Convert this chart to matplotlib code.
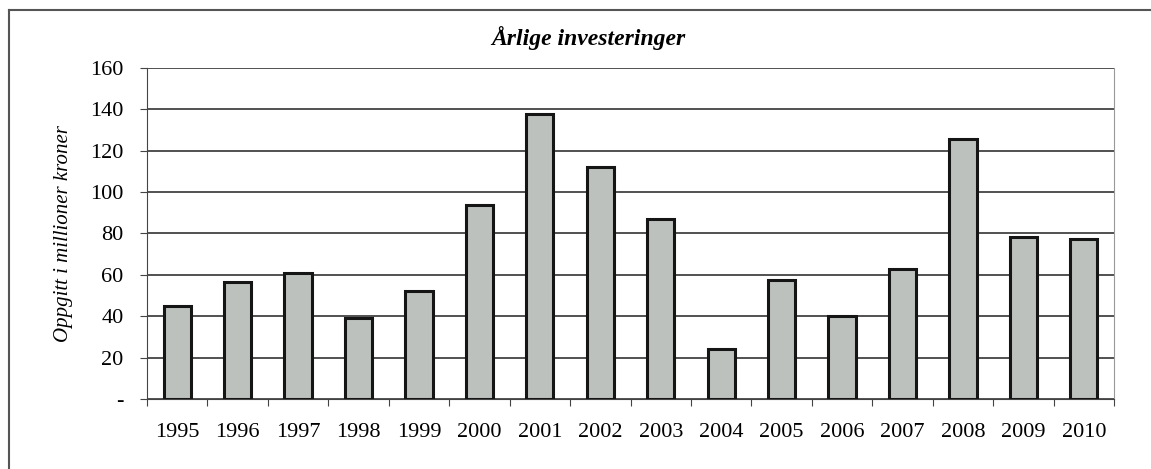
import matplotlib.pyplot as plt
from matplotlib.lines import Line2D

years = ['1995', '1996', '1997', '1998', '1999', '2000', '2001', '2002',
         '2003', '2004', '2005', '2006', '2007', '2008', '2009', '2010']
values = [45, 56.5, 61, 39, 52, 94, 138, 112, 87, 24, 57.5, 40, 63, 125.5, 78.5, 77.5]
yticks = [0, 20, 40, 60, 80, 100, 120, 140, 160]
ylabels = ['-', '20', '40', '60', '80', '100', '120', '140', '160']

plt.rcParams['font.family'] = 'Liberation Serif'

W, H = 1151, 469
fig = plt.figure(figsize=(W / 100, H / 100), dpi=100)
ax = fig.add_axes([147 / W, 1 - 399 / H, (1114 - 147) / W, (399 - 68) / H])

x = range(len(years))
ax.bar(x, values, width=0.45, color='#bcc1be', edgecolor='#151515', linewidth=2.2, zorder=3)

ax.set_xlim(-0.5, len(years) - 0.5)
ax.set_ylim(0, 160)
ax.set_yticks(yticks)
ax.set_yticklabels(ylabels, fontsize=16)
ax.set_xticks([i + 0.5 for i in range(len(years) - 1)] + [-0.5, len(years) - 0.5])
ax.set_xticklabels([''] * (len(years) + 1))
ax.set_xticks(list(x), minor=True)
ax.set_xticklabels(years, minor=True, fontsize=16)
ax.tick_params(axis='x', which='minor', length=0, pad=17)
ax.tick_params(axis='x', which='major', length=5, color='#444444')
ax.tick_params(axis='y', length=5, color='#444444', pad=12)

ax.grid(axis='y', color='#333333', linewidth=1.2, zorder=0)
ax.spines['top'].set_visible(False)
ax.spines['right'].set_color('#999999')
ax.spines['left'].set_color('#444444')
ax.spines['bottom'].set_color('#444444')

ax.set_ylabel('Oppgitt i millioner kroner', fontsize=15, style='italic', labelpad=12)
fig.text(588 / W, 1 - 38 / H, 'Årlige investeringer', fontsize=17, style='italic',
         weight='bold', ha='center', va='center')

# outer chart frame (cut by the scan on right and bottom)
fig.add_artist(Line2D([9 / W, 1], [1 - 10 / H, 1 - 10 / H], color='#555555', linewidth=1.5))
fig.add_artist(Line2D([9 / W, 9 / W], [0, 1 - 10 / H], color='#555555', linewidth=1.5))

fig.savefig('out.png', dpi=100)
